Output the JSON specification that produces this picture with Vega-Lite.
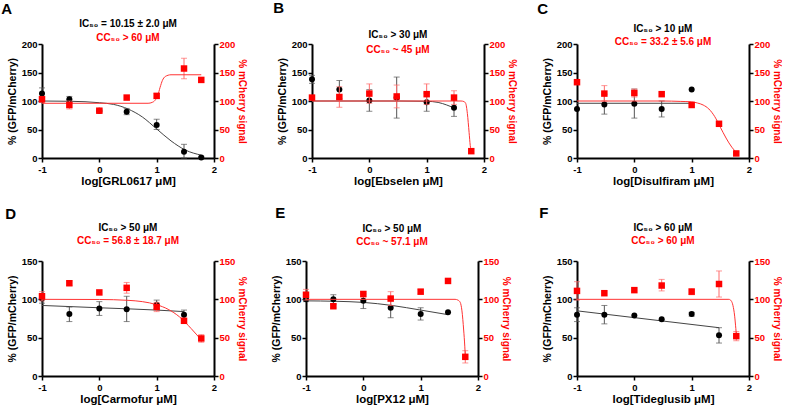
{
"$schema": "https://vega.github.io/schema/vega-lite/v6.json",
"padding": {"left": 1, "top": 0, "right": 0, "bottom": 0},
"config": {
 "font": "Liberation Sans",
 "view": {"stroke": null},
 "axis": {"grid": false, "domainColor": "black", "domainWidth": 2, "tickColor": "black", "tickWidth": 1.5, "tickSize": 4, "labelFont": "Liberation Sans", "labelFontSize": 9.5, "labelFontWeight": "bold", "labelColor": "black", "labelPadding": 1, "labelFlush": false, "titleFont": "Liberation Sans", "titleFontSize": 10.5, "titleFontWeight": "bold", "titleColor": "black", "titlePadding": 4},
 "axisRight": {"titlePadding": 2, "titleFontSize": 10},
 "axisX": {"titleFontSize": 11.5, "labelPadding": 2, "titlePadding": 2},
 "title": {"font": "Liberation Sans", "fontSize": 15, "fontWeight": "bold", "anchor": "start", "frame": "bounds", "color": "black"},
 "text": {"font": "Liberation Sans"}
},
"datasets": {
 "A": [
  {"s":"g","k":"p","x":-1,"y":113,"lo":103,"hi":123},
  {"s":"g","k":"p","x":-0.523,"y":103,"lo":98,"hi":108},
  {"s":"g","k":"p","x":0,"y":83,"lo":81,"hi":86},
  {"s":"g","k":"p","x":0.477,"y":81,"lo":76,"hi":87},
  {"s":"g","k":"p","x":1,"y":58,"lo":50,"hi":68},
  {"s":"g","k":"p","x":1.477,"y":11,"lo":0,"hi":24},
  {"s":"g","k":"p","x":1.778,"y":1,"lo":0,"hi":3},
  {"s":"g","k":"f","x":-1,"y":100},{"s":"g","k":"f","x":-0.5,"y":99.5},{"s":"g","k":"f","x":0,"y":97},{"s":"g","k":"f","x":0.25,"y":94},{"s":"g","k":"f","x":0.5,"y":86},{"s":"g","k":"f","x":0.75,"y":72},{"s":"g","k":"f","x":1,"y":51},{"s":"g","k":"f","x":1.25,"y":30},{"s":"g","k":"f","x":1.5,"y":14},{"s":"g","k":"f","x":1.778,"y":5},
  {"s":"m","k":"p","x":-1,"y":103,"lo":98,"hi":108},
  {"s":"m","k":"p","x":-0.523,"y":93,"lo":86,"hi":100},
  {"s":"m","k":"p","x":0,"y":83,"lo":80,"hi":86},
  {"s":"m","k":"p","x":0.477,"y":106},
  {"s":"m","k":"p","x":1,"y":109,"lo":105,"hi":113},
  {"s":"m","k":"p","x":1.477,"y":157,"lo":139,"hi":175},
  {"s":"m","k":"p","x":1.778,"y":137},
  {"s":"m","k":"f","x":-1,"y":96},{"s":"m","k":"f","x":0.85,"y":96},{"s":"m","k":"f","x":0.92,"y":97.5},{"s":"m","k":"f","x":0.97,"y":101},{"s":"m","k":"f","x":1.02,"y":110},{"s":"m","k":"f","x":1.06,"y":124},{"s":"m","k":"f","x":1.1,"y":136},{"s":"m","k":"f","x":1.15,"y":143},{"s":"m","k":"f","x":1.25,"y":146},{"s":"m","k":"f","x":1.778,"y":146}
 ],
 "B": [
  {"s":"g","k":"p","x":-1,"y":138,"lo":131,"hi":145},
  {"s":"g","k":"p","x":-0.523,"y":120,"lo":104,"hi":136},
  {"s":"g","k":"p","x":0,"y":101,"lo":82,"hi":120},
  {"s":"g","k":"p","x":0.477,"y":106,"lo":70,"hi":142},
  {"s":"g","k":"p","x":1,"y":98,"lo":82,"hi":114},
  {"s":"g","k":"p","x":1.477,"y":88,"lo":73,"hi":103},
  {"s":"g","k":"f","x":-1,"y":100},{"s":"g","k":"f","x":0.5,"y":100},{"s":"g","k":"f","x":1,"y":99.5},{"s":"g","k":"f","x":1.2,"y":97.5},{"s":"g","k":"f","x":1.35,"y":93},{"s":"g","k":"f","x":1.477,"y":88},
  {"s":"m","k":"p","x":-1,"y":106},
  {"s":"m","k":"p","x":-0.523,"y":107,"lo":89,"hi":125},
  {"s":"m","k":"p","x":0,"y":113,"lo":96,"hi":130},
  {"s":"m","k":"p","x":0.477,"y":108,"lo":88,"hi":128},
  {"s":"m","k":"p","x":1,"y":112,"lo":94,"hi":130},
  {"s":"m","k":"p","x":1.477,"y":106,"lo":94,"hi":118},
  {"s":"m","k":"p","x":1.778,"y":12},
  {"s":"m","k":"f","x":-1,"y":100},{"s":"m","k":"f","x":1.6,"y":100},{"s":"m","k":"f","x":1.65,"y":99},{"s":"m","k":"f","x":1.68,"y":96},{"s":"m","k":"f","x":1.71,"y":78},{"s":"m","k":"f","x":1.74,"y":45},{"s":"m","k":"f","x":1.76,"y":22},{"s":"m","k":"f","x":1.778,"y":11}
 ],
 "C": [
  {"s":"g","k":"p","x":-1,"y":86},
  {"s":"g","k":"p","x":-0.523,"y":94,"lo":77,"hi":112},
  {"s":"g","k":"p","x":0,"y":95,"lo":70,"hi":121},
  {"s":"g","k":"p","x":0.477,"y":86,"lo":72,"hi":100},
  {"s":"g","k":"p","x":1,"y":120},
  {"s":"g","k":"f","x":-1,"y":96},{"s":"g","k":"f","x":1,"y":96},
  {"s":"m","k":"p","x":-1,"y":133},
  {"s":"m","k":"p","x":-0.523,"y":113,"lo":100,"hi":127},
  {"s":"m","k":"p","x":0,"y":114,"lo":107,"hi":121},
  {"s":"m","k":"p","x":0.477,"y":112},
  {"s":"m","k":"p","x":1,"y":93},
  {"s":"m","k":"p","x":1.477,"y":60},
  {"s":"m","k":"p","x":1.778,"y":8},
  {"s":"m","k":"f","x":-1,"y":100},{"s":"m","k":"f","x":0.5,"y":100},{"s":"m","k":"f","x":0.8,"y":99.3},{"s":"m","k":"f","x":1,"y":98.5},{"s":"m","k":"f","x":1.1,"y":96.5},{"s":"m","k":"f","x":1.2,"y":93},{"s":"m","k":"f","x":1.3,"y":86},{"s":"m","k":"f","x":1.4,"y":73},{"s":"m","k":"f","x":1.5,"y":54},{"s":"m","k":"f","x":1.6,"y":35},{"s":"m","k":"f","x":1.7,"y":19},{"s":"m","k":"f","x":1.778,"y":10}
 ],
 "D": [
  {"s":"g","k":"p","x":-1,"y":101,"lo":95,"hi":107},
  {"s":"g","k":"p","x":-0.523,"y":81,"lo":71,"hi":90},
  {"s":"g","k":"p","x":0,"y":88,"lo":79,"hi":97},
  {"s":"g","k":"p","x":0.477,"y":87,"lo":71,"hi":104},
  {"s":"g","k":"p","x":1,"y":93,"lo":88,"hi":99},
  {"s":"g","k":"p","x":1.477,"y":80,"lo":75,"hi":86},
  {"s":"g","k":"f","x":-1,"y":92},{"s":"g","k":"f","x":0,"y":89},{"s":"g","k":"f","x":1,"y":86},{"s":"g","k":"f","x":1.477,"y":84},
  {"s":"m","k":"p","x":-1,"y":104,"lo":98,"hi":110},
  {"s":"m","k":"p","x":-0.523,"y":121,"lo":118,"hi":124},
  {"s":"m","k":"p","x":0,"y":109},
  {"s":"m","k":"p","x":0.477,"y":115,"lo":108,"hi":122},
  {"s":"m","k":"p","x":1,"y":90,"lo":84,"hi":96},
  {"s":"m","k":"p","x":1.477,"y":72,"lo":70,"hi":74},
  {"s":"m","k":"p","x":1.778,"y":49,"lo":44,"hi":54},
  {"s":"m","k":"f","x":-1,"y":100},{"s":"m","k":"f","x":0,"y":99.8},{"s":"m","k":"f","x":0.5,"y":98.7},{"s":"m","k":"f","x":0.75,"y":97},{"s":"m","k":"f","x":1,"y":93},{"s":"m","k":"f","x":1.2,"y":87},{"s":"m","k":"f","x":1.4,"y":77},{"s":"m","k":"f","x":1.6,"y":62},{"s":"m","k":"f","x":1.778,"y":47}
 ],
 "E": [
  {"s":"g","k":"p","x":-1,"y":100,"lo":97,"hi":103},
  {"s":"g","k":"p","x":-0.523,"y":100,"lo":94,"hi":106},
  {"s":"g","k":"p","x":0,"y":98,"lo":88,"hi":107},
  {"s":"g","k":"p","x":0.477,"y":89,"lo":76,"hi":102},
  {"s":"g","k":"p","x":1,"y":81,"lo":73,"hi":89},
  {"s":"g","k":"p","x":1.477,"y":83},
  {"s":"g","k":"f","x":-1,"y":98},{"s":"g","k":"f","x":-0.5,"y":97.5},{"s":"g","k":"f","x":0,"y":96},{"s":"g","k":"f","x":0.5,"y":92},{"s":"g","k":"f","x":1,"y":86},{"s":"g","k":"f","x":1.477,"y":80},
  {"s":"m","k":"p","x":-1,"y":106,"lo":99,"hi":113},
  {"s":"m","k":"p","x":-0.523,"y":91,"lo":89,"hi":93},
  {"s":"m","k":"p","x":0,"y":107,"lo":103,"hi":110},
  {"s":"m","k":"p","x":0.477,"y":101,"lo":92,"hi":110},
  {"s":"m","k":"p","x":1,"y":110,"lo":107,"hi":113},
  {"s":"m","k":"p","x":1.477,"y":124},
  {"s":"m","k":"p","x":1.778,"y":25,"lo":17,"hi":33},
  {"s":"m","k":"f","x":-1,"y":100},{"s":"m","k":"f","x":1.6,"y":100},{"s":"m","k":"f","x":1.65,"y":99},{"s":"m","k":"f","x":1.69,"y":96},{"s":"m","k":"f","x":1.72,"y":85},{"s":"m","k":"f","x":1.75,"y":60},{"s":"m","k":"f","x":1.77,"y":38},{"s":"m","k":"f","x":1.778,"y":26}
 ],
 "F": [
  {"s":"g","k":"p","x":-1,"y":80,"lo":71,"hi":89},
  {"s":"g","k":"p","x":-0.523,"y":80,"lo":68,"hi":92},
  {"s":"g","k":"p","x":0,"y":79},
  {"s":"g","k":"p","x":0.477,"y":74},
  {"s":"g","k":"p","x":1,"y":81,"lo":78,"hi":83},
  {"s":"g","k":"p","x":1.477,"y":53,"lo":43,"hi":63},
  {"s":"g","k":"f","x":-1,"y":85},{"s":"g","k":"f","x":1.477,"y":63},
  {"s":"m","k":"p","x":-1,"y":111,"lo":99,"hi":123},
  {"s":"m","k":"p","x":-0.523,"y":108},
  {"s":"m","k":"p","x":0,"y":112},
  {"s":"m","k":"p","x":0.477,"y":118,"lo":111,"hi":126},
  {"s":"m","k":"p","x":1,"y":110,"lo":106,"hi":114},
  {"s":"m","k":"p","x":1.477,"y":120,"lo":103,"hi":137},
  {"s":"m","k":"p","x":1.778,"y":52,"lo":46,"hi":58},
  {"s":"m","k":"f","x":-1,"y":100},{"s":"m","k":"f","x":1.65,"y":100},{"s":"m","k":"f","x":1.69,"y":98},{"s":"m","k":"f","x":1.72,"y":92},{"s":"m","k":"f","x":1.75,"y":78},{"s":"m","k":"f","x":1.77,"y":62},{"s":"m","k":"f","x":1.778,"y":55}
 ]
},
"vconcat": [
 {"hconcat": [
  {"width": 172, "height": 114, "title": {"text": "A", "dx": -6, "offset": 2}, "data": {"name": "A"},
   "layer": [
    {"layer": [
     {"transform": [{"filter": "datum.s=='g' && datum.k=='p' && datum.lo!=null"}], "mark": {"type": "errorbar", "color": "#555555", "ticks": {"size": 6}, "thickness": 1},
      "encoding": {"x": {"field": "x", "type": "quantitative", "title": "log[GRL0617 μM]"}, "y": {"field": "lo", "type": "quantitative", "title": "% (GFP/mCherry)", "scale": {"domain": [0, 200], "nice": false}, "axis": {"values": [0, 50, 100, 150, 200]}}, "y2": {"field": "hi"}}},
     {"transform": [{"filter": "datum.s=='g' && datum.k=='f'"}], "mark": {"type": "line", "color": "#444444", "strokeWidth": 1, "interpolate": "monotone"},
      "encoding": {"x": {"field": "x", "type": "quantitative", "title": "log[GRL0617 μM]"}, "y": {"field": "y", "type": "quantitative", "title": "% (GFP/mCherry)", "axis": {"values": [0, 50, 100, 150, 200]}}}},
     {"transform": [{"filter": "datum.s=='g' && datum.k=='p'"}], "mark": {"type": "point", "shape": "circle", "filled": true, "size": 36, "color": "black", "opacity": 1},
      "encoding": {"x": {"field": "x", "type": "quantitative", "title": "log[GRL0617 μM]", "scale": {"domain": [-1, 2], "nice": false, "zero": false}, "axis": {"values": [-1, 0, 1, 2], "labelExpr": "datum.value"}},
       "y": {"field": "y", "type": "quantitative", "title": "% (GFP/mCherry)", "scale": {"domain": [0, 200], "nice": false}, "axis": {"values": [0, 50, 100, 150, 200]}}}},
     {"data": {"values": [{"t": "IC₅₀ = 10.15 ± 2.0 μM"}]}, "mark": {"type": "text", "fontSize": 10, "fontWeight": "bold", "color": "black"},
      "encoding": {"text": {"field": "t"}, "x": {"datum": 0.5, "type": "quantitative", "title": "log[GRL0617 μM]"}, "y": {"datum": 235, "type": "quantitative", "title": "% (GFP/mCherry)", "axis": {"values": [0, 50, 100, 150, 200]}}}},
     {"data": {"values": [{"t": "CC₅₀ > 60 μM"}]}, "mark": {"type": "text", "fontSize": 10, "fontWeight": "bold", "color": "#ff0000"},
      "encoding": {"text": {"field": "t"}, "x": {"datum": 0.5, "type": "quantitative", "title": "log[GRL0617 μM]"}, "y": {"datum": 210.5, "type": "quantitative", "title": "% (GFP/mCherry)", "axis": {"values": [0, 50, 100, 150, 200]}}}}
    ]},
    {"layer": [
     {"transform": [{"filter": "datum.s=='m' && datum.k=='p' && datum.lo!=null"}], "mark": {"type": "errorbar", "color": "#ff6a6a", "ticks": {"size": 6}, "thickness": 1},
      "encoding": {"x": {"field": "x", "type": "quantitative", "title": "log[GRL0617 μM]"}, "y": {"field": "lo", "type": "quantitative", "title": "% mCherry signal", "scale": {"domain": [0, 200], "nice": false}, "axis": {"orient": "right", "values": [0, 50, 100, 150, 200], "labelColor": "#ff0000", "titleColor": "#ff0000"}}, "y2": {"field": "hi"}}},
     {"transform": [{"filter": "datum.s=='m' && datum.k=='f'"}], "mark": {"type": "line", "color": "#ff3333", "strokeWidth": 1, "interpolate": "monotone"},
      "encoding": {"x": {"field": "x", "type": "quantitative", "title": "log[GRL0617 μM]"}, "y": {"field": "y", "type": "quantitative", "title": "% mCherry signal", "axis": {"orient": "right", "values": [0, 50, 100, 150, 200], "labelColor": "#ff0000", "titleColor": "#ff0000"}}}},
     {"transform": [{"filter": "datum.s=='m' && datum.k=='p'"}], "mark": {"type": "point", "shape": "square", "filled": true, "size": 42, "color": "#ff0000", "opacity": 1},
      "encoding": {"x": {"field": "x", "type": "quantitative", "title": "log[GRL0617 μM]"},
       "y": {"field": "y", "type": "quantitative", "title": "% mCherry signal", "scale": {"domain": [0, 200], "nice": false}, "axis": {"orient": "right", "values": [0, 50, 100, 150, 200], "labelColor": "#ff0000", "titleColor": "#ff0000"}}}}
    ]}
   ],
   "resolve": {"scale": {"y": "independent"}}},
  {"hconcat": [
  {"width": 172, "height": 114, "title": {"text": "B", "dx": -4, "offset": 14}, "data": {"name": "B"},
   "layer": [
    {"layer": [
     {"transform": [{"filter": "datum.s=='g' && datum.k=='p' && datum.lo!=null"}], "mark": {"type": "errorbar", "color": "#555555", "ticks": {"size": 6}, "thickness": 1},
      "encoding": {"x": {"field": "x", "type": "quantitative", "title": "log[Ebselen μM]"}, "y": {"field": "lo", "type": "quantitative", "title": "% (GFP/mCherry)", "scale": {"domain": [0, 200], "nice": false}, "axis": {"values": [0, 50, 100, 150, 200]}}, "y2": {"field": "hi"}}},
     {"transform": [{"filter": "datum.s=='g' && datum.k=='f'"}], "mark": {"type": "line", "color": "#444444", "strokeWidth": 1, "interpolate": "monotone"},
      "encoding": {"x": {"field": "x", "type": "quantitative", "title": "log[Ebselen μM]"}, "y": {"field": "y", "type": "quantitative", "title": "% (GFP/mCherry)", "axis": {"values": [0, 50, 100, 150, 200]}}}},
     {"transform": [{"filter": "datum.s=='g' && datum.k=='p'"}], "mark": {"type": "point", "shape": "circle", "filled": true, "size": 36, "color": "black", "opacity": 1},
      "encoding": {"x": {"field": "x", "type": "quantitative", "title": "log[Ebselen μM]", "scale": {"domain": [-1, 2], "nice": false, "zero": false}, "axis": {"values": [-1, 0, 1, 2], "labelExpr": "datum.value"}},
       "y": {"field": "y", "type": "quantitative", "title": "% (GFP/mCherry)", "scale": {"domain": [0, 200], "nice": false}, "axis": {"values": [0, 50, 100, 150, 200]}}}},
     {"data": {"values": [{"t": "IC₅₀ > 30 μM"}]}, "mark": {"type": "text", "fontSize": 10, "fontWeight": "bold", "color": "black"},
      "encoding": {"text": {"field": "t"}, "x": {"datum": 0.5, "type": "quantitative", "title": "log[Ebselen μM]"}, "y": {"datum": 216, "type": "quantitative", "title": "% (GFP/mCherry)", "axis": {"values": [0, 50, 100, 150, 200]}}}},
     {"data": {"values": [{"t": "CC₅₀ ~ 45 μM"}]}, "mark": {"type": "text", "fontSize": 10, "fontWeight": "bold", "color": "#ff0000"},
      "encoding": {"text": {"field": "t"}, "x": {"datum": 0.5, "type": "quantitative", "title": "log[Ebselen μM]"}, "y": {"datum": 190, "type": "quantitative", "title": "% (GFP/mCherry)", "axis": {"values": [0, 50, 100, 150, 200]}}}}
    ]},
    {"layer": [
     {"transform": [{"filter": "datum.s=='m' && datum.k=='p' && datum.lo!=null"}], "mark": {"type": "errorbar", "color": "#ff6a6a", "ticks": {"size": 6}, "thickness": 1},
      "encoding": {"x": {"field": "x", "type": "quantitative", "title": "log[Ebselen μM]"}, "y": {"field": "lo", "type": "quantitative", "title": "% mCherry signal", "scale": {"domain": [0, 200], "nice": false}, "axis": {"orient": "right", "values": [0, 50, 100, 150, 200], "labelColor": "#ff0000", "titleColor": "#ff0000"}}, "y2": {"field": "hi"}}},
     {"transform": [{"filter": "datum.s=='m' && datum.k=='f'"}], "mark": {"type": "line", "color": "#ff3333", "strokeWidth": 1, "interpolate": "monotone"},
      "encoding": {"x": {"field": "x", "type": "quantitative", "title": "log[Ebselen μM]"}, "y": {"field": "y", "type": "quantitative", "title": "% mCherry signal", "axis": {"orient": "right", "values": [0, 50, 100, 150, 200], "labelColor": "#ff0000", "titleColor": "#ff0000"}}}},
     {"transform": [{"filter": "datum.s=='m' && datum.k=='p'"}], "mark": {"type": "point", "shape": "square", "filled": true, "size": 42, "color": "#ff0000", "opacity": 1},
      "encoding": {"x": {"field": "x", "type": "quantitative", "title": "log[Ebselen μM]"},
       "y": {"field": "y", "type": "quantitative", "title": "% mCherry signal", "scale": {"domain": [0, 200], "nice": false}, "axis": {"orient": "right", "values": [0, 50, 100, 150, 200], "labelColor": "#ff0000", "titleColor": "#ff0000"}}}}
    ]}
   ],
   "resolve": {"scale": {"y": "independent"}}},
  {"width": 172, "height": 114, "title": {"text": "C", "dx": -5, "offset": 7}, "data": {"name": "C"},
   "layer": [
    {"layer": [
     {"transform": [{"filter": "datum.s=='g' && datum.k=='p' && datum.lo!=null"}], "mark": {"type": "errorbar", "color": "#555555", "ticks": {"size": 6}, "thickness": 1},
      "encoding": {"x": {"field": "x", "type": "quantitative", "title": "log[Disulfiram μM]"}, "y": {"field": "lo", "type": "quantitative", "title": "% (GFP/mCherry)", "scale": {"domain": [0, 200], "nice": false}, "axis": {"values": [0, 50, 100, 150, 200]}}, "y2": {"field": "hi"}}},
     {"transform": [{"filter": "datum.s=='g' && datum.k=='f'"}], "mark": {"type": "line", "color": "#444444", "strokeWidth": 1, "interpolate": "monotone"},
      "encoding": {"x": {"field": "x", "type": "quantitative", "title": "log[Disulfiram μM]"}, "y": {"field": "y", "type": "quantitative", "title": "% (GFP/mCherry)", "axis": {"values": [0, 50, 100, 150, 200]}}}},
     {"transform": [{"filter": "datum.s=='g' && datum.k=='p'"}], "mark": {"type": "point", "shape": "circle", "filled": true, "size": 36, "color": "black", "opacity": 1},
      "encoding": {"x": {"field": "x", "type": "quantitative", "title": "log[Disulfiram μM]", "scale": {"domain": [-1, 2], "nice": false, "zero": false}, "axis": {"values": [-1, 0, 1, 2], "labelExpr": "datum.value"}},
       "y": {"field": "y", "type": "quantitative", "title": "% (GFP/mCherry)", "scale": {"domain": [0, 200], "nice": false}, "axis": {"values": [0, 50, 100, 150, 200]}}}},
     {"data": {"values": [{"t": "IC₅₀ > 10 μM"}]}, "mark": {"type": "text", "fontSize": 10, "fontWeight": "bold", "color": "black"},
      "encoding": {"text": {"field": "t"}, "x": {"datum": 0.5, "type": "quantitative", "title": "log[Disulfiram μM]"}, "y": {"datum": 226, "type": "quantitative", "title": "% (GFP/mCherry)", "axis": {"values": [0, 50, 100, 150, 200]}}}},
     {"data": {"values": [{"t": "CC₅₀ = 33.2 ± 5.6 μM"}]}, "mark": {"type": "text", "fontSize": 10, "fontWeight": "bold", "color": "#ff0000"},
      "encoding": {"text": {"field": "t"}, "x": {"datum": 0.5, "type": "quantitative", "title": "log[Disulfiram μM]"}, "y": {"datum": 203.5, "type": "quantitative", "title": "% (GFP/mCherry)", "axis": {"values": [0, 50, 100, 150, 200]}}}}
    ]},
    {"layer": [
     {"transform": [{"filter": "datum.s=='m' && datum.k=='p' && datum.lo!=null"}], "mark": {"type": "errorbar", "color": "#ff6a6a", "ticks": {"size": 6}, "thickness": 1},
      "encoding": {"x": {"field": "x", "type": "quantitative", "title": "log[Disulfiram μM]"}, "y": {"field": "lo", "type": "quantitative", "title": "% mCherry signal", "scale": {"domain": [0, 200], "nice": false}, "axis": {"orient": "right", "values": [0, 50, 100, 150, 200], "labelColor": "#ff0000", "titleColor": "#ff0000"}}, "y2": {"field": "hi"}}},
     {"transform": [{"filter": "datum.s=='m' && datum.k=='f'"}], "mark": {"type": "line", "color": "#ff3333", "strokeWidth": 1, "interpolate": "monotone"},
      "encoding": {"x": {"field": "x", "type": "quantitative", "title": "log[Disulfiram μM]"}, "y": {"field": "y", "type": "quantitative", "title": "% mCherry signal", "axis": {"orient": "right", "values": [0, 50, 100, 150, 200], "labelColor": "#ff0000", "titleColor": "#ff0000"}}}},
     {"transform": [{"filter": "datum.s=='m' && datum.k=='p'"}], "mark": {"type": "point", "shape": "square", "filled": true, "size": 42, "color": "#ff0000", "opacity": 1},
      "encoding": {"x": {"field": "x", "type": "quantitative", "title": "log[Disulfiram μM]"},
       "y": {"field": "y", "type": "quantitative", "title": "% mCherry signal", "scale": {"domain": [0, 200], "nice": false}, "axis": {"orient": "right", "values": [0, 50, 100, 150, 200], "labelColor": "#ff0000", "titleColor": "#ff0000"}}}}
    ]}
   ],
   "resolve": {"scale": {"y": "independent"}}}
  ], "spacing": 20}
 ], "spacing": 26},
 {"hconcat": [
  {"width": 172, "height": 115, "title": {"text": "D", "dx": -2, "offset": 1}, "data": {"name": "D"},
   "layer": [
    {"layer": [
     {"transform": [{"filter": "datum.s=='g' && datum.k=='p' && datum.lo!=null"}], "mark": {"type": "errorbar", "color": "#555555", "ticks": {"size": 6}, "thickness": 1},
      "encoding": {"x": {"field": "x", "type": "quantitative", "title": "log[Carmofur μM]"}, "y": {"field": "lo", "type": "quantitative", "title": "% (GFP/mCherry)", "scale": {"domain": [0, 150], "nice": false}, "axis": {"values": [0, 50, 100, 150]}}, "y2": {"field": "hi"}}},
     {"transform": [{"filter": "datum.s=='g' && datum.k=='f'"}], "mark": {"type": "line", "color": "#444444", "strokeWidth": 1, "interpolate": "monotone"},
      "encoding": {"x": {"field": "x", "type": "quantitative", "title": "log[Carmofur μM]"}, "y": {"field": "y", "type": "quantitative", "title": "% (GFP/mCherry)", "axis": {"values": [0, 50, 100, 150]}}}},
     {"transform": [{"filter": "datum.s=='g' && datum.k=='p'"}], "mark": {"type": "point", "shape": "circle", "filled": true, "size": 36, "color": "black", "opacity": 1},
      "encoding": {"x": {"field": "x", "type": "quantitative", "title": "log[Carmofur μM]", "scale": {"domain": [-1, 2], "nice": false, "zero": false}, "axis": {"values": [-1, 0, 1, 2], "labelExpr": "datum.value"}},
       "y": {"field": "y", "type": "quantitative", "title": "% (GFP/mCherry)", "scale": {"domain": [0, 150], "nice": false}, "axis": {"values": [0, 50, 100, 150]}}}},
     {"data": {"values": [{"t": "IC₅₀ > 50 μM"}]}, "mark": {"type": "text", "fontSize": 10, "fontWeight": "bold", "color": "black"},
      "encoding": {"text": {"field": "t"}, "x": {"datum": 0.5, "type": "quantitative", "title": "log[Carmofur μM]"}, "y": {"datum": 193, "type": "quantitative", "title": "% (GFP/mCherry)", "axis": {"values": [0, 50, 100, 150]}}}},
     {"data": {"values": [{"t": "CC₅₀ = 56.8 ± 18.7 μM"}]}, "mark": {"type": "text", "fontSize": 10, "fontWeight": "bold", "color": "#ff0000"},
      "encoding": {"text": {"field": "t"}, "x": {"datum": 0.5, "type": "quantitative", "title": "log[Carmofur μM]"}, "y": {"datum": 175.5, "type": "quantitative", "title": "% (GFP/mCherry)", "axis": {"values": [0, 50, 100, 150]}}}}
    ]},
    {"layer": [
     {"transform": [{"filter": "datum.s=='m' && datum.k=='p' && datum.lo!=null"}], "mark": {"type": "errorbar", "color": "#ff6a6a", "ticks": {"size": 6}, "thickness": 1},
      "encoding": {"x": {"field": "x", "type": "quantitative", "title": "log[Carmofur μM]"}, "y": {"field": "lo", "type": "quantitative", "title": "% mCherry signal", "scale": {"domain": [0, 150], "nice": false}, "axis": {"orient": "right", "values": [0, 50, 100, 150], "labelColor": "#ff0000", "titleColor": "#ff0000"}}, "y2": {"field": "hi"}}},
     {"transform": [{"filter": "datum.s=='m' && datum.k=='f'"}], "mark": {"type": "line", "color": "#ff3333", "strokeWidth": 1, "interpolate": "monotone"},
      "encoding": {"x": {"field": "x", "type": "quantitative", "title": "log[Carmofur μM]"}, "y": {"field": "y", "type": "quantitative", "title": "% mCherry signal", "axis": {"orient": "right", "values": [0, 50, 100, 150], "labelColor": "#ff0000", "titleColor": "#ff0000"}}}},
     {"transform": [{"filter": "datum.s=='m' && datum.k=='p'"}], "mark": {"type": "point", "shape": "square", "filled": true, "size": 42, "color": "#ff0000", "opacity": 1},
      "encoding": {"x": {"field": "x", "type": "quantitative", "title": "log[Carmofur μM]"},
       "y": {"field": "y", "type": "quantitative", "title": "% mCherry signal", "scale": {"domain": [0, 150], "nice": false}, "axis": {"orient": "right", "values": [0, 50, 100, 150], "labelColor": "#ff0000", "titleColor": "#ff0000"}}}}
    ]}
   ],
   "resolve": {"scale": {"y": "independent"}}},
  {"hconcat": [
  {"width": 172, "height": 115, "title": {"text": "E", "dx": 4, "offset": 2.5}, "data": {"name": "E"},
   "layer": [
    {"layer": [
     {"transform": [{"filter": "datum.s=='g' && datum.k=='p' && datum.lo!=null"}], "mark": {"type": "errorbar", "color": "#555555", "ticks": {"size": 6}, "thickness": 1},
      "encoding": {"x": {"field": "x", "type": "quantitative", "title": "log[PX12 μM]"}, "y": {"field": "lo", "type": "quantitative", "title": "% (GFP/mCherry)", "scale": {"domain": [0, 150], "nice": false}, "axis": {"values": [0, 50, 100, 150]}}, "y2": {"field": "hi"}}},
     {"transform": [{"filter": "datum.s=='g' && datum.k=='f'"}], "mark": {"type": "line", "color": "#444444", "strokeWidth": 1, "interpolate": "monotone"},
      "encoding": {"x": {"field": "x", "type": "quantitative", "title": "log[PX12 μM]"}, "y": {"field": "y", "type": "quantitative", "title": "% (GFP/mCherry)", "axis": {"values": [0, 50, 100, 150]}}}},
     {"transform": [{"filter": "datum.s=='g' && datum.k=='p'"}], "mark": {"type": "point", "shape": "circle", "filled": true, "size": 36, "color": "black", "opacity": 1},
      "encoding": {"x": {"field": "x", "type": "quantitative", "title": "log[PX12 μM]", "scale": {"domain": [-1, 2], "nice": false, "zero": false}, "axis": {"values": [-1, 0, 1, 2], "labelExpr": "datum.value"}},
       "y": {"field": "y", "type": "quantitative", "title": "% (GFP/mCherry)", "scale": {"domain": [0, 150], "nice": false}, "axis": {"values": [0, 50, 100, 150]}}}},
     {"data": {"values": [{"t": "IC₅₀ > 50 μM"}]}, "mark": {"type": "text", "fontSize": 10, "fontWeight": "bold", "color": "black"},
      "encoding": {"text": {"field": "t"}, "x": {"datum": 0.5, "type": "quantitative", "title": "log[PX12 μM]"}, "y": {"datum": 192, "type": "quantitative", "title": "% (GFP/mCherry)", "axis": {"values": [0, 50, 100, 150]}}}},
     {"data": {"values": [{"t": "CC₅₀ ~ 57.1 μM"}]}, "mark": {"type": "text", "fontSize": 10, "fontWeight": "bold", "color": "#ff0000"},
      "encoding": {"text": {"field": "t"}, "x": {"datum": 0.5, "type": "quantitative", "title": "log[PX12 μM]"}, "y": {"datum": 175, "type": "quantitative", "title": "% (GFP/mCherry)", "axis": {"values": [0, 50, 100, 150]}}}}
    ]},
    {"layer": [
     {"transform": [{"filter": "datum.s=='m' && datum.k=='p' && datum.lo!=null"}], "mark": {"type": "errorbar", "color": "#ff6a6a", "ticks": {"size": 6}, "thickness": 1},
      "encoding": {"x": {"field": "x", "type": "quantitative", "title": "log[PX12 μM]"}, "y": {"field": "lo", "type": "quantitative", "title": "% mCherry signal", "scale": {"domain": [0, 150], "nice": false}, "axis": {"orient": "right", "values": [0, 50, 100, 150], "labelColor": "#ff0000", "titleColor": "#ff0000"}}, "y2": {"field": "hi"}}},
     {"transform": [{"filter": "datum.s=='m' && datum.k=='f'"}], "mark": {"type": "line", "color": "#ff3333", "strokeWidth": 1, "interpolate": "monotone"},
      "encoding": {"x": {"field": "x", "type": "quantitative", "title": "log[PX12 μM]"}, "y": {"field": "y", "type": "quantitative", "title": "% mCherry signal", "axis": {"orient": "right", "values": [0, 50, 100, 150], "labelColor": "#ff0000", "titleColor": "#ff0000"}}}},
     {"transform": [{"filter": "datum.s=='m' && datum.k=='p'"}], "mark": {"type": "point", "shape": "square", "filled": true, "size": 42, "color": "#ff0000", "opacity": 1},
      "encoding": {"x": {"field": "x", "type": "quantitative", "title": "log[PX12 μM]"},
       "y": {"field": "y", "type": "quantitative", "title": "% mCherry signal", "scale": {"domain": [0, 150], "nice": false}, "axis": {"orient": "right", "values": [0, 50, 100, 150], "labelColor": "#ff0000", "titleColor": "#ff0000"}}}}
    ]}
   ],
   "resolve": {"scale": {"y": "independent"}}},
  {"width": 172, "height": 115, "title": {"text": "F", "dx": -3, "offset": 2.5}, "data": {"name": "F"},
   "layer": [
    {"layer": [
     {"transform": [{"filter": "datum.s=='g' && datum.k=='p' && datum.lo!=null"}], "mark": {"type": "errorbar", "color": "#555555", "ticks": {"size": 6}, "thickness": 1},
      "encoding": {"x": {"field": "x", "type": "quantitative", "title": "log[Tideglusib μM]"}, "y": {"field": "lo", "type": "quantitative", "title": "% (GFP/mCherry)", "scale": {"domain": [0, 150], "nice": false}, "axis": {"values": [0, 50, 100, 150]}}, "y2": {"field": "hi"}}},
     {"transform": [{"filter": "datum.s=='g' && datum.k=='f'"}], "mark": {"type": "line", "color": "#444444", "strokeWidth": 1, "interpolate": "monotone"},
      "encoding": {"x": {"field": "x", "type": "quantitative", "title": "log[Tideglusib μM]"}, "y": {"field": "y", "type": "quantitative", "title": "% (GFP/mCherry)", "axis": {"values": [0, 50, 100, 150]}}}},
     {"transform": [{"filter": "datum.s=='g' && datum.k=='p'"}], "mark": {"type": "point", "shape": "circle", "filled": true, "size": 36, "color": "black", "opacity": 1},
      "encoding": {"x": {"field": "x", "type": "quantitative", "title": "log[Tideglusib μM]", "scale": {"domain": [-1, 2], "nice": false, "zero": false}, "axis": {"values": [-1, 0, 1, 2], "labelExpr": "datum.value"}},
       "y": {"field": "y", "type": "quantitative", "title": "% (GFP/mCherry)", "scale": {"domain": [0, 150], "nice": false}, "axis": {"values": [0, 50, 100, 150]}}}},
     {"data": {"values": [{"t": "IC₅₀ > 60 μM"}]}, "mark": {"type": "text", "fontSize": 10, "fontWeight": "bold", "color": "black"},
      "encoding": {"text": {"field": "t"}, "x": {"datum": 0.5, "type": "quantitative", "title": "log[Tideglusib μM]"}, "y": {"datum": 193, "type": "quantitative", "title": "% (GFP/mCherry)", "axis": {"values": [0, 50, 100, 150]}}}},
     {"data": {"values": [{"t": "CC₅₀ > 60 μM"}]}, "mark": {"type": "text", "fontSize": 10, "fontWeight": "bold", "color": "#ff0000"},
      "encoding": {"text": {"field": "t"}, "x": {"datum": 0.5, "type": "quantitative", "title": "log[Tideglusib μM]"}, "y": {"datum": 176, "type": "quantitative", "title": "% (GFP/mCherry)", "axis": {"values": [0, 50, 100, 150]}}}}
    ]},
    {"layer": [
     {"transform": [{"filter": "datum.s=='m' && datum.k=='p' && datum.lo!=null"}], "mark": {"type": "errorbar", "color": "#ff6a6a", "ticks": {"size": 6}, "thickness": 1},
      "encoding": {"x": {"field": "x", "type": "quantitative", "title": "log[Tideglusib μM]"}, "y": {"field": "lo", "type": "quantitative", "title": "% mCherry signal", "scale": {"domain": [0, 150], "nice": false}, "axis": {"orient": "right", "values": [0, 50, 100, 150], "labelColor": "#ff0000", "titleColor": "#ff0000"}}, "y2": {"field": "hi"}}},
     {"transform": [{"filter": "datum.s=='m' && datum.k=='f'"}], "mark": {"type": "line", "color": "#ff3333", "strokeWidth": 1, "interpolate": "monotone"},
      "encoding": {"x": {"field": "x", "type": "quantitative", "title": "log[Tideglusib μM]"}, "y": {"field": "y", "type": "quantitative", "title": "% mCherry signal", "axis": {"orient": "right", "values": [0, 50, 100, 150], "labelColor": "#ff0000", "titleColor": "#ff0000"}}}},
     {"transform": [{"filter": "datum.s=='m' && datum.k=='p'"}], "mark": {"type": "point", "shape": "square", "filled": true, "size": 42, "color": "#ff0000", "opacity": 1},
      "encoding": {"x": {"field": "x", "type": "quantitative", "title": "log[Tideglusib μM]"},
       "y": {"field": "y", "type": "quantitative", "title": "% mCherry signal", "scale": {"domain": [0, 150], "nice": false}, "axis": {"orient": "right", "values": [0, 50, 100, 150], "labelColor": "#ff0000", "titleColor": "#ff0000"}}}}
    ]}
   ],
   "resolve": {"scale": {"y": "independent"}}}
  ], "spacing": 28}
 ], "spacing": 24}
],
"spacing": 18
}
